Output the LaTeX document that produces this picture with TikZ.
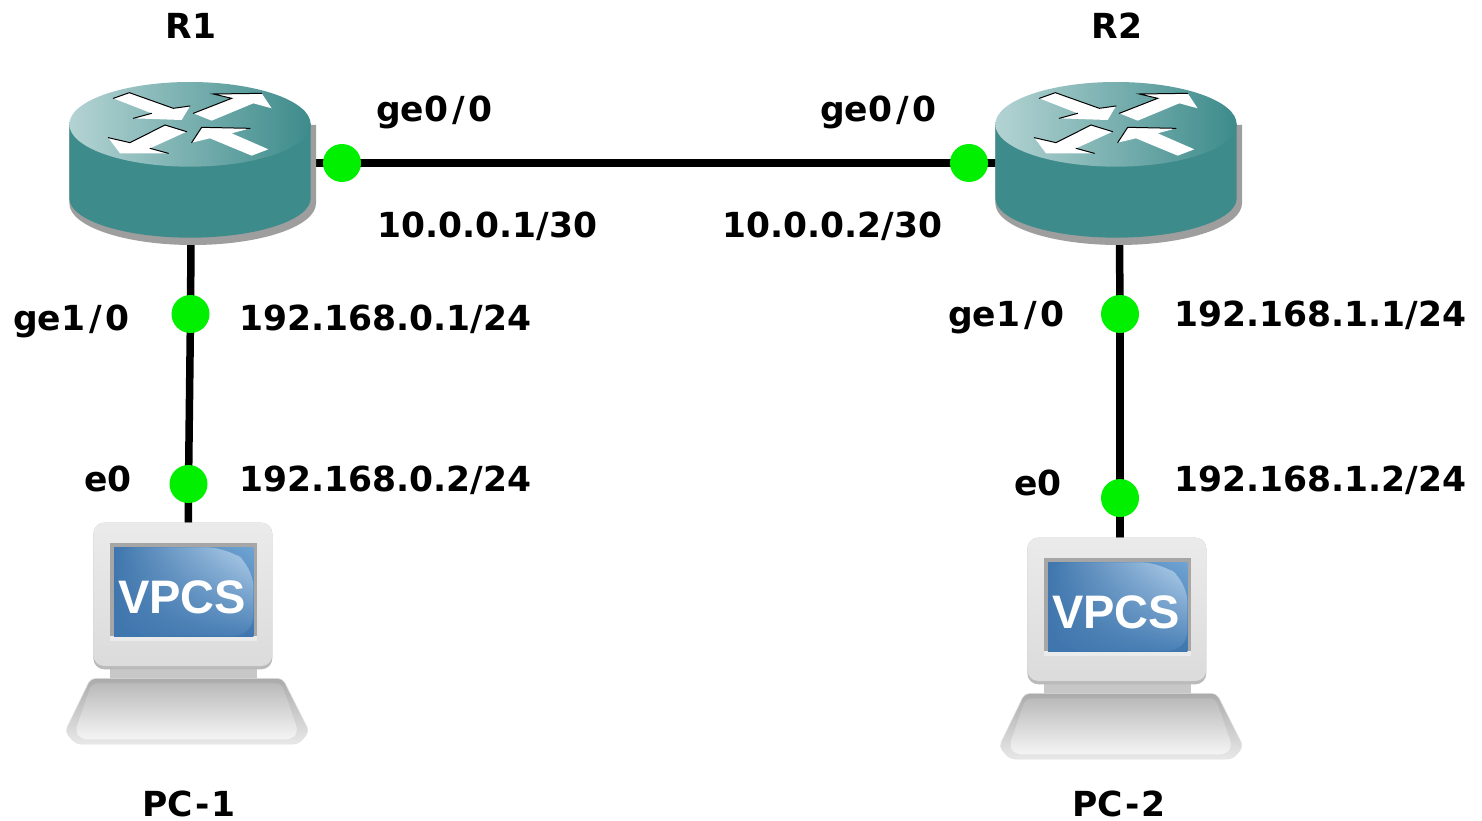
\documentclass[tikz,border=0pt]{standalone}
\usepackage{fontspec}
\usetikzlibrary{shadings,backgrounds}
\setmainfont{DejaVu Sans}
\newfontfamily\vpcsfont{Liberation Sans}
\definecolor{teal1}{HTML}{3D8B8B}
\definecolor{tealL}{HTML}{B4D3D3}
\definecolor{portgreen}{HTML}{00F000}
\definecolor{scrA}{HTML}{3F76AD}
\definecolor{scrB}{HTML}{6FA3D3}
\definecolor{scrD}{HTML}{B5D2EC}
\definecolor{scrE}{HTML}{4A80B6}
\newcommand{\geslash}{\kern4pt/\kern4pt}
\tikzset{
  lbl/.style={font=\bfseries\fontsize{34.5}{38}\selectfont,text=black,inner sep=0pt,anchor=base west},
  lblc/.style={font=\bfseries\fontsize{34.5}{38}\selectfont,text=black,inner sep=0pt,anchor=base},
  port/.style={circle,fill=portgreen,minimum size=38pt,inner sep=0pt},
  wire/.style={line width=7.5pt,black},
  whitearrow/.style={fill=white,draw=none},
  arrowedge/.style={draw=black,line width=1pt,line cap=round},
}
\newcommand{\routerbody}[2]{%
 \begin{scope}[shift={(#1,#2)},x=0.33333pt,y=-0.33333pt]
  \fill[black!38] (798,165) -- (798,400) arc[x radius=370,y radius=125,start angle=0,end angle=180] -- (58,165) -- cycle;
  \fill[teal1] (58,160) -- (58,385) arc[x radius=362,y radius=118,start angle=180,end angle=0] -- (782,160) -- cycle;
  \path[left color=tealL,middle color=teal1,right color=teal1] (420,163) ellipse[x radius=362,y radius=127];
  \fill[whitearrow] (190,85)--(238,68)--(370,115)--(420,108)--(395,150)--(250,145)--(305,130)--cycle;
  \draw[arrowedge] (190,85)--(238,68)--(370,115)--(420,108);
  \draw[arrowedge] (250,145)--(305,130);
  \fill[whitearrow] (430,130)--(545,85)--(490,72)--(635,70)--(665,115)--(610,100)--(485,152)--cycle;
  \draw[arrowedge] (430,130)--(545,85)--(490,72)--(635,70);
  \fill[whitearrow] (175,203)--(240,218)--(345,165)--(410,185)--(300,235)--(355,250)--(210,250)--cycle;
  \draw[arrowedge] (175,203)--(240,218)--(345,165)--(410,185);
  \draw[arrowedge] (300,235)--(355,250);
  \fill[whitearrow] (425,218)--(455,172)--(600,175)--(545,190)--(655,238)--(605,257)--(480,205)--cycle;
  \draw[arrowedge] (425,218)--(455,172)--(600,175);
 \end{scope}}
\newcommand{\pcbody}[3]{%
 \begin{scope}[shift={(#1,#2)},x=0.33333pt,y=-0.33333pt]
  \fill[black!22] (180,460) rectangle (620,510);
  \path[rounded corners=5pt,top color=black!33,bottom color=black!9,draw=black!12,line width=.5pt]
     (122,505)--(698,505)--(778,665)--(745,702)--(78,702)--(45,665)--cycle;
  \path[rounded corners=6pt,top color=black!27,bottom color=black!4]
     (125,520)--(695,520)--(745,665)--(725,688)--(95,688)--(75,665)--cycle;
  \path[rounded corners=11pt,fill=black!27] (130,38) rectangle (667,478);
  \path[rounded corners=11pt,top color=black!8,bottom color=black!14] (130,38) rectangle (667,468);
  \fill[black!35] (180,100) rectangle (622,392);
  \fill[black!8] (180,378) rectangle (622,392);
  \path[shade,lower left=scrA,upper right=scrB,upper left=scrA,lower right=scrA] (192,112) rectangle (610,378);
  \path[rounded corners=20pt,shade,lower left=scrA,upper left=scrA,upper right=scrD,lower right=scrE]
     (192,112) -- (530,112) -- (610,170) -- (610,378) -- (240,378) -- (192,310) -- cycle;
  \node[text=white,inner sep=0pt,font=\vpcsfont\bfseries\fontsize{47}{50}\selectfont] (#3) at (396,262) {VPCS};
 \end{scope}}
\begin{document}
\begin{tikzpicture}[x=1pt,y=-1pt]
\useasboundingbox (0,0) rectangle (1482,821);
\coordinate (R1) at (191.5,163);
\coordinate (R2) at (1119,163);
\coordinate (PC1) at (188,600);
\coordinate (PC2) at (1120,615);
\node[port] (p1) at (342,163) {};
\node[port] (p2) at (969,163) {};
\node[port] (p3) at (190.5,314) {};
\node[port] (p4) at (1120,314) {};
\node[port] (p5) at (188.5,484) {};
\node[port] (p6) at (1120,498) {};
\begin{pgfonlayer}{background}
\fill[white] (0,0) rectangle (1482,821);
\draw[wire] (R1) -- (p1.center);
\draw[wire] (p1.center) -- (p2.center);
\draw[wire] (p2.center) -- (R2);
\draw[wire] (R1) -- (p3.center);
\draw[wire] (p3.center) -- (p5.center);
\draw[wire] (p5.center) -- (PC1);
\draw[wire] (R2) -- (p4.center);
\draw[wire] (p4.center) -- (p6.center);
\draw[wire] (p6.center) -- (PC2);
\end{pgfonlayer}
\routerbody{50}{70}
\routerbody{976}{70}
\pcbody{50}{510}{v1}
\pcbody{984}{525}{v2}
\node[lblc] (tR1) at (191,39) {R1};
\node[lblc] (tR2) at (1117,39) {R2};
\node[lblc] (tPC1) at (189,816) {PC\kern2pt-\kern2pt1};
\node[lblc] (tPC2) at (1119,816) {PC\kern2pt-\kern2pt2};
\node[lbl] (a1) at (376,122) {ge0\geslash 0};
\node[lbl] (a2) at (820,122) {ge0\geslash 0};
\node[lbl] (a3) at (377,237) {10.0.0.1/30};
\node[lbl] (a4) at (722,237) {10.0.0.2/30};
\node[lbl] (a5) at (13,330) {ge1\geslash 0};
\node[lbl] (a6) at (239,330) {192.168.0.1/24};
\node[lbl] (a7) at (948,326) {ge1\geslash 0};
\node[lbl] (a8) at (1174,326) {192.168.1.1/24};
\node[lbl] (a9) at (84,491) {e0};
\node[lbl] (a10) at (239,491) {192.168.0.2/24};
\node[lbl] (a11) at (1014,495) {e0};
\node[lbl] (a12) at (1174,491) {192.168.1.2/24};
\end{tikzpicture}
\end{document}
